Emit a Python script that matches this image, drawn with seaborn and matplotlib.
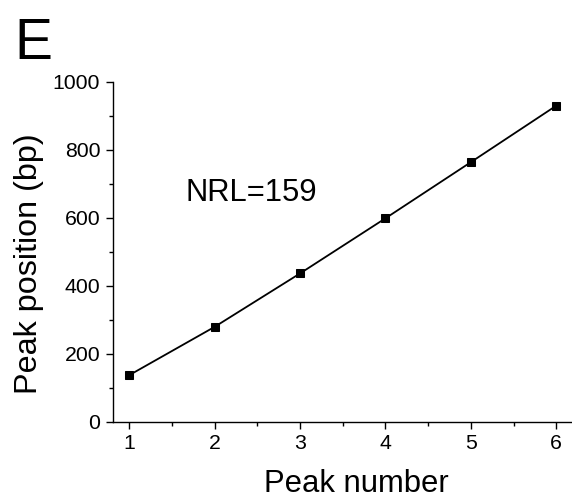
import matplotlib
matplotlib.use("Agg")
import matplotlib.pyplot as plt
import seaborn as sns
import pandas as pd
from matplotlib.ticker import MultipleLocator

peak_number = [1, 2, 3, 4, 5, 6]
peak_position = [137, 279, 436, 598, 763, 929]
x_ticks = [1, 2, 3, 4, 5, 6]
y_ticks = [0, 200, 400, 600, 800, 1000]

sns.set_style("ticks")
plt.rcParams['font.family'] = ['Liberation Sans', 'DejaVu Sans']
plt.rcParams['text.color'] = 'black'
plt.rcParams['axes.labelcolor'] = 'black'
plt.rcParams['xtick.color'] = 'black'
plt.rcParams['ytick.color'] = 'black'

df = pd.DataFrame({"Peak number": peak_number, "Peak position (bp)": peak_position})

fig = plt.figure(figsize=(5.72, 4.98), dpi=100)
ax = fig.add_axes([0.197, 0.1532, 0.803, 0.683])
sns.lineplot(data=df, x="Peak number", y="Peak position (bp)", ax=ax,
             color="black", linewidth=1.3, marker="s", markersize=5.8,
             markeredgecolor="black", markerfacecolor="black")

ax.set_xlim(0.805, 6.185)
ax.set_ylim(0, 1000)
ax.set_xticks(x_ticks)
ax.set_yticks(y_ticks)
ax.xaxis.set_minor_locator(MultipleLocator(0.5))
ax.yaxis.set_minor_locator(MultipleLocator(100))
ax.tick_params(which="major", direction="out", length=5, width=1, labelsize=15.3,
               colors="black", labelcolor="black", pad=4)
ax.tick_params(which="minor", direction="out", length=3, width=1, colors="black")
for s in ["top", "right"]:
    ax.spines[s].set_visible(False)
for s in ["left", "bottom"]:
    ax.spines[s].set_linewidth(1)
    ax.spines[s].set_color("black")

ax.set_xlabel("Peak number", fontsize=22.3, color="black")
ax.set_ylabel("Peak position (bp)", fontsize=23.3, color="black")
ax.xaxis.set_label_coords(0.53, -0.14)
ax.yaxis.set_label_coords(-0.15, 0.464)

ax.text(1.66, 672, "NRL=159", fontsize=22.3, ha="left", va="center", color="black")
fig.text(0.026, 0.965, "E", fontsize=41, ha="left", va="top", color="black")

fig.savefig("out.png", dpi=100)
